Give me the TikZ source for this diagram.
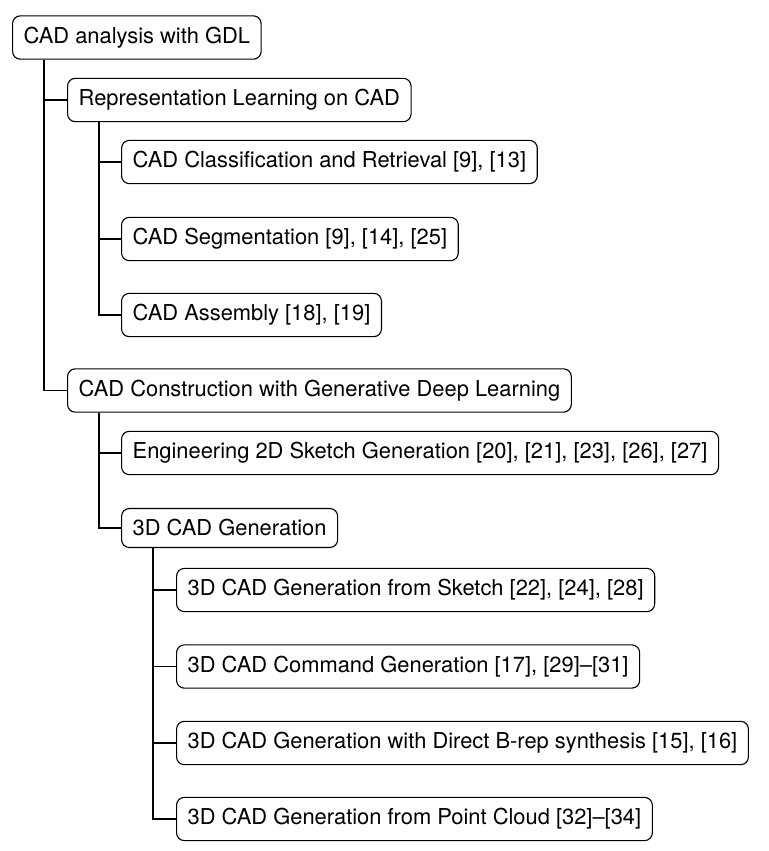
\documentclass[tikz,border=0pt]{standalone}
\usepackage{fontspec}
\setmainfont{TeX Gyre Heros}
\tikzstyle{topic}=[draw, rounded corners=3.5pt, line width=0.5pt, inner xsep=5pt, inner ysep=5pt, anchor=west, font=\fontsize{9.85pt}{12pt}\selectfont]
\tikzstyle{edge} = [draw, line width=0.7pt, -]
\def\branch{14.4pt}
\begin{document}
\begin{tikzpicture}[x=0.45pt, y=-0.45pt]

    % The page
    \useasboundingbox (0,0) rectangle (769,851);

    % The topics, left edge and middle height
    \foreach \pos/\name/\txt in {
      {(12,37.5)/root/{CAD analysis with GDL}},
      {(67,100)/rep/{Representation Learning on CAD}},
      {(121,162)/cls/{CAD Classification and Retrieval [9], [13]}},
      {(121,239)/seg/{CAD Segmentation [9], [14], [25]}},
      {(121,315)/asm/{CAD Assembly [18], [19]}},
      {(67,390.5)/cons/{CAD Construction with Generative Deep Learning}},
      {(121,453)/sketch/{Engineering 2D Sketch Generation [20], [21], [23], [26], [27]}},
      {(121,528)/gen/{3D CAD Generation}},
      {(176,590)/fsk/{3D CAD Generation from Sketch [22], [24], [28]}},
      {(176,666.5)/cmd/{3D CAD Command Generation [17], [29]--[31]}},
      {(176,743)/brep/{3D CAD Generation with Direct B-rep synthesis [15], [16]}},
      {(176,819)/pcd/{3D CAD Generation from Point Cloud [32]--[34]}}}
      \node[topic] (\name) at \pos {\txt};

    % The tree lines
    \foreach \parent/\child in {root/rep, root/cons, rep/cls, rep/seg, rep/asm, cons/sketch, cons/gen, gen/fsk, gen/cmd, gen/brep, gen/pcd}
      \path[edge] ([xshift=\branch]\parent.south west) |- (\child.west);
\end{tikzpicture}
\end{document}
